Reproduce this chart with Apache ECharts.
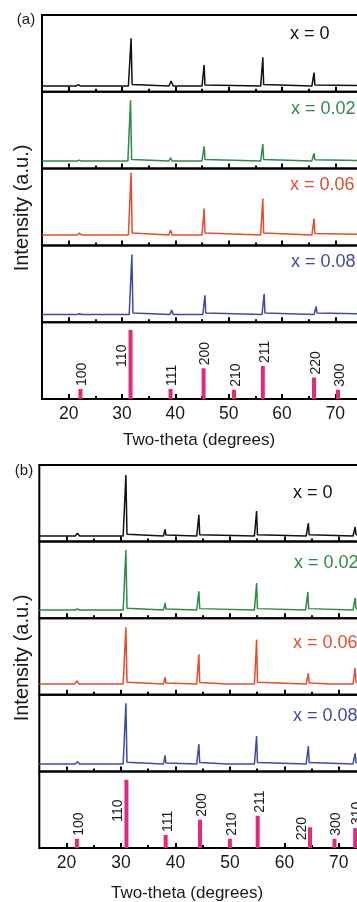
<!DOCTYPE html>
<html>
<head>
<meta charset="utf-8">
<script src="https://cdn.jsdelivr.net/npm/echarts@6/dist/echarts.min.js"></script>
<style>
html,body{margin:0;padding:0;background:#fff;}
#chart{width:357px;height:902px;}
</style>
</head>
<body>
<div id="chart"></div>
<script>
// ---------------- DATA ----------------
const panelNames = ['(a)', '(b)'];
const sampleLabels = ['x = 0', 'x = 0.02', 'x = 0.06', 'x = 0.08'];
const majorTicks = [20, 30, 40, 50, 60, 70, 80];
const minorTicks = [25, 35, 45, 55, 65, 75];
const tickLabels = [20, 30, 40, 50, 60, 70, 80];
const xTitle = 'Two-theta (degrees)';
const yTitle = 'Intensity (a.u.)';

// panel (a) spectra : [2-theta, intensity]
const specA_x0 = [[15,7.5],[21.4,7.5],[21.8,9.5],[22.2,7.5],[31.2,7.5],[31.5,9.5],[31.7,69.7],[31.9,9.5],[32.2,7.5],[38.8,7.5],[39.2,14],[39.6,7.5],[45.0,7.5],[45.25,9],[45.4,35],[45.55,9],[45.8,7.5],[56.0,7.5],[56.25,9.5],[56.4,45],[56.55,9.5],[56.8,7.5],[65.6,7.5],[65.85,9],[66.0,25],[66.15,9],[66.4,7.5],[80,7.5]];
const specA_x002 = [[15,10],[21.6,10],[22.0,11],[22.4,10],[31.1,10],[31.4,12],[31.6,89],[31.8,12],[32.1,10],[38.8,10],[39.1,14],[39.4,10],[45.0,10],[45.25,12],[45.4,29],[45.55,12],[45.8,10],[56.0,10],[56.25,12],[56.4,32],[56.55,12],[56.8,10],[65.6,10],[65.85,11.5],[66.0,20],[66.15,11.5],[66.4,10],[80,10]];
const specA_x006 = [[15,13.5],[21.6,13.5],[22.0,16],[22.4,13.5],[31.2,13.5],[31.5,16],[31.7,95],[31.9,16],[32.2,13.5],[38.8,13.5],[39.1,20],[39.4,13.5],[45.0,13.5],[45.25,16],[45.4,48],[45.55,16],[45.8,13.5],[56.0,13.5],[56.25,16],[56.4,61],[56.55,16],[56.8,13.5],[65.6,13.5],[65.85,15.5],[66.0,35],[66.15,15.5],[66.4,13.5],[80,13.5]];
const specA_x008 = [[15,10],[21.6,10],[22.0,11],[22.4,10],[31.35,10],[31.65,12],[31.85,88],[32.05,12],[32.35,10],[39.0,10],[39.3,16],[39.6,10],[45.15,10],[45.4,12],[45.55,35],[45.7,12],[45.95,10],[56.25,10],[56.5,12],[56.65,37],[56.8,12],[57.05,10],[66.0,10],[66.25,12],[66.4,20.5],[66.55,12],[66.8,10],[80,10]];

// panel (b) spectra
const specB_x0 = [[15,7.3],[21.6,7.3],[22.0,11],[22.4,7.3],[30.4,7.3],[30.7,9.5],[30.9,87],[31.1,9.5],[31.4,7.3],[37.8,7.3],[37.95,8.5],[38.1,16],[38.25,8.5],[38.4,7.3],[43.9,7.3],[44.15,9],[44.3,35],[44.45,9],[44.7,7.3],[54.5,7.3],[54.75,9],[54.9,40],[55.05,9],[55.3,7.3],[64.0,7.3],[64.25,9],[64.4,24],[64.55,9],[64.8,7.3],[72.6,7.3],[72.85,9],[73.0,19],[73.15,9],[73.4,7.3],[80,7.3]];
const specB_x002 = [[15,10.7],[21.6,10.7],[22.0,12],[22.4,10.7],[30.4,10.7],[30.7,13],[30.9,89],[31.1,13],[31.4,10.7],[37.8,10.7],[37.95,12],[38.1,20],[38.25,12],[38.4,10.7],[43.9,10.7],[44.15,12.5],[44.3,35],[44.45,12.5],[44.7,10.7],[54.5,10.7],[54.75,12.5],[54.9,46],[55.05,12.5],[55.3,10.7],[63.9,10.7],[64.15,12.5],[64.3,34],[64.45,12.5],[64.7,10.7],[72.6,10.7],[72.85,12.5],[73.0,26.5],[73.15,12.5],[73.4,10.7],[80,10.7]];
const specB_x006 = [[15,14],[21.5,14],[21.9,18],[22.3,14],[30.4,14],[30.7,16.5],[30.9,88],[31.1,16.5],[31.4,14],[37.8,14],[37.95,15.5],[38.1,23],[38.25,15.5],[38.4,14],[43.9,14],[44.15,16],[44.3,53],[44.45,16],[44.7,14],[49.5,14],[49.8,16],[50.1,14],[54.5,14],[54.75,16.5],[54.9,72],[55.05,16.5],[55.3,14],[64.0,14],[64.25,15.5],[64.4,28],[64.55,15.5],[64.8,14],[68.5,14],[68.8,16],[69.1,14],[72.6,14],[72.85,16],[73.0,35],[73.15,16],[73.4,14],[80,14]];
const specB_x008 = [[15,9.7],[21.6,9.7],[22.0,12.7],[22.4,9.7],[30.4,9.7],[30.7,12],[30.9,89],[31.1,12],[31.4,9.7],[37.8,9.7],[37.95,11],[38.1,21],[38.25,11],[38.4,9.7],[43.9,9.7],[44.15,11.5],[44.3,35.5],[44.45,11.5],[44.7,9.7],[49.5,9.7],[49.8,12],[50.1,9.7],[54.5,9.7],[54.75,11.5],[54.9,46],[55.05,11.5],[55.3,9.7],[64.0,9.7],[64.25,11.5],[64.4,33],[64.55,11.5],[64.8,9.7],[72.6,9.7],[72.85,11.5],[73.0,23.5],[73.15,11.5],[73.4,9.7],[80,9.7]];

// reference (standard) reflections
const refA_hkl = ['100','110','111','200','210','211','220','300'];
const refA_pos = [22.2, 31.6, 39.1, 45.3, 51.0, 56.4, 66.0, 70.5];
const refA_int = [13, 90, 13, 40, 12, 43, 28, 12];
const refB_hkl = ['100','110','111','200','210','211','220','300','310'];
const refB_pos = [21.9, 31.0, 38.2, 44.5, 50.0, 55.1, 64.7, 69.2, 73.0];
const refB_int = [12, 89, 17, 37, 12, 42, 27, 12, 26];

// ---------------- LAYOUT / STYLE ----------------
const FONT = '"Liberation Sans", Arial, Helvetica, sans-serif';
const colors = ['#111111', '#2e8b47', '#e84b2c', '#3d4aa6'];
const barColor = '#e5287a';
const panels = [
  { left: 42, width: 346.7, top: 15, h: 76.8, spectra: [specA_x0, specA_x002, specA_x006, specA_x008],
    hkl: refA_hkl, pos: refA_pos, inten: refA_int,
    labelOverride: { '110': [-6, 37] } },
  { left: 39.3, width: 354, top: 465, h: 76.6, spectra: [specB_x0, specB_x002, specB_x006, specB_x008],
    hkl: refB_hkl, pos: refB_pos, inten: refB_int,
    labelOverride: { '110': [-6, 42], '220': [-6, 13] } }
];

const grid = [], xAxis = [], yAxis = [], series = [];
panels.forEach((p, pi) => {
  for (let k = 0; k < 5; k++) {
    const gi = grid.length;
    grid.push({ left: p.left, width: p.width, top: p.top + k * p.h, height: p.h,
      outerBoundsMode: 'none', containLabel: false,
      show: true, borderColor: '#000', borderWidth: 2, backgroundColor: 'transparent' });
    const isBottom = k === 4;
    xAxis.push({ type: 'value', gridIndex: gi, min: 15, max: 80, position: 'bottom',
      axisLine: { show: false },
      axisTick: { show: true, inside: true, length: 5, customValues: majorTicks, lineStyle: { color: '#000', width: 2 } },
      axisLabel: { show: isBottom, customValues: tickLabels, fontSize: 17.5, color: '#1a1a1a', margin: 6, fontFamily: FONT },
      splitLine: { show: false } });
    xAxis.push({ type: 'value', gridIndex: gi, min: 15, max: 80, position: 'bottom',
      axisLine: { show: false },
      axisTick: { show: true, inside: true, length: 3, customValues: minorTicks, lineStyle: { color: '#000', width: 2 } },
      axisLabel: { show: false }, splitLine: { show: false } });
    yAxis.push({ type: 'value', gridIndex: gi, min: 0, max: 100,
      axisLine: { show: false }, axisTick: { show: false }, axisLabel: { show: false }, splitLine: { show: false } });
    if (k < 4) {
      series.push({ type: 'line', xAxisIndex: gi * 2, yAxisIndex: gi, data: p.spectra[k],
        showSymbol: false, symbol: 'none', smooth: false, animation: false,
        lineStyle: { color: colors[k], width: 1.5 } });
    } else {
      const data = p.pos.map((x, i) => {
        const item = { value: [x, p.inten[i]], name: p.hkl[i] };
        if (p.labelOverride[p.hkl[i]]) item.label = { position: p.labelOverride[p.hkl[i]] };
        return item;
      });
      series.push({ type: 'bar', xAxisIndex: gi * 2, yAxisIndex: gi, data: data, barWidth: 4,
        animation: false, itemStyle: { color: barColor },
        label: { show: true, position: [4, -3], rotate: 90, align: 'left', verticalAlign: 'middle',
          formatter: (d) => d.name, fontSize: 14, color: '#1a1a1a', fontFamily: FONT } });
    }
  }
});

const txt = (x, y, text, opt) => Object.assign({ type: 'text', x: x, y: y,
  style: Object.assign({ text: text, font: '17px ' + FONT, fill: '#1a1a1a', align: 'left', verticalAlign: 'middle' }, opt || {}) });

const graphic = [
  txt(26, 20, panelNames[0], { font: '15px ' + FONT, align: 'center' }),
  txt(24, 471, panelNames[1], { font: '15px ' + FONT, align: 'center' }),
  Object.assign(txt(22, 208, yTitle, { font: '20px ' + FONT, align: 'center' }), { rotation: Math.PI / 2 }),
  Object.assign(txt(22, 658, yTitle, { font: '20px ' + FONT, align: 'center' }), { rotation: Math.PI / 2 }),
  txt(199, 440, xTitle, { align: 'center' }),
  txt(187, 893, xTitle, { align: 'center' }),
  txt(290, 34, sampleLabels[0], { fill: colors[0], font: '18px ' + FONT }),
  txt(291, 109, sampleLabels[1], { fill: colors[1], font: '18px ' + FONT }),
  txt(290, 185, sampleLabels[2], { fill: colors[2], font: '18px ' + FONT }),
  txt(291, 262, sampleLabels[3], { fill: colors[3], font: '18px ' + FONT }),
  txt(293, 493, sampleLabels[0], { fill: colors[0], font: '18px ' + FONT }),
  txt(294, 563, sampleLabels[1], { fill: colors[1], font: '18px ' + FONT }),
  txt(293, 643, sampleLabels[2], { fill: colors[2], font: '18px ' + FONT }),
  txt(293, 716, sampleLabels[3], { fill: colors[3], font: '18px ' + FONT })
];

const chart = echarts.init(document.getElementById('chart'), null, { renderer: 'canvas' });
chart.setOption({
  backgroundColor: '#fff',
  animation: false,
  textStyle: { fontFamily: FONT },
  grid: grid, xAxis: xAxis, yAxis: yAxis, series: series, graphic: graphic
});
</script>
</body>
</html>
